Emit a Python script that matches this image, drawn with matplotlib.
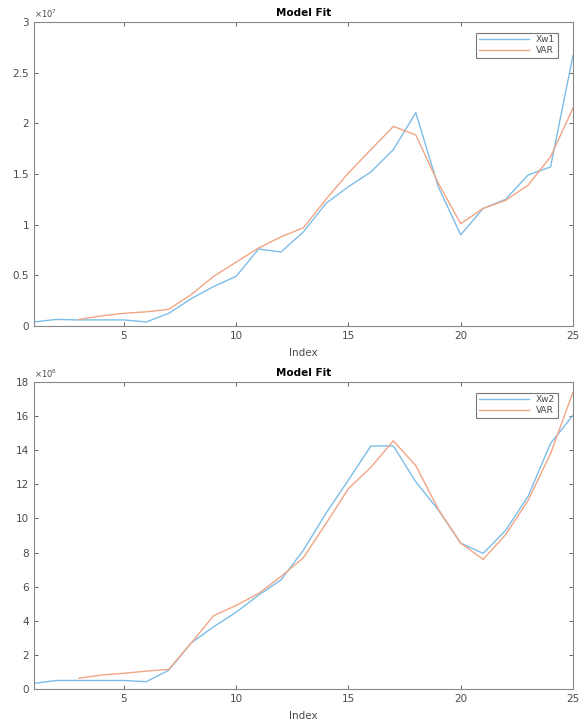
import matplotlib
matplotlib.use("Agg")
import matplotlib.pyplot as plt
from matplotlib.ticker import FuncFormatter, MultipleLocator

index = list(range(1, 26))

# Top panel (units: raw values)
xw1 = [0.4e6, 0.65e6, 0.6e6, 0.6e6, 0.6e6, 0.4e6, 1.25e6, 2.7e6, 3.9e6, 4.9e6,
       7.6e6, 7.3e6, 9.3e6, 12.1e6, 13.75e6, 15.2e6, 17.4e6, 21.05e6, 13.75e6, 9.0e6,
       11.6e6, 12.5e6, 14.9e6, 15.7e6, 26.7e6]
var1_x = list(range(3, 26))
var1 = [0.65e6, 1.0e6, 1.25e6, 1.4e6, 1.65e6, 3.1e6, 4.9e6, 6.3e6, 7.7e6, 8.8e6,
        9.7e6, 12.5e6, 15.1e6, 17.4e6, 19.7e6, 18.85e6, 14.1e6, 10.1e6, 11.6e6, 12.4e6,
        13.9e6, 16.7e6, 21.5e6]

# Bottom panel
xw2 = [0.33e6, 0.5e6, 0.5e6, 0.5e6, 0.5e6, 0.43e6, 1.1e6, 2.7e6, 3.65e6, 4.5e6,
       5.5e6, 6.4e6, 8.15e6, 10.3e6, 12.25e6, 14.25e6, 14.25e6, 12.15e6, 10.5e6, 8.55e6,
       7.95e6, 9.3e6, 11.3e6, 14.4e6, 16.05e6]
var2_x = list(range(3, 26))
var2 = [0.63e6, 0.82e6, 0.92e6, 1.05e6, 1.15e6, 2.7e6, 4.3e6, 4.9e6, 5.6e6, 6.6e6,
        7.7e6, 9.7e6, 11.75e6, 13.0e6, 14.55e6, 13.1e6, 10.55e6, 8.55e6, 7.6e6, 9.05e6,
        11.05e6, 13.8e6, 17.4e6]

blue = "#7cbde8"
orange = "#f2a585"
gray = "#4a4a4a"

fig = plt.figure(figsize=(5.8, 7.22), dpi=100)
ax1 = fig.add_axes([34/580, 1-326/722, 539/580, 304/722])
ax2 = fig.add_axes([34/580, 1-689/722, 539/580, 307/722])

def style(ax, scale, exp, ymax, ystep, names, xs, ys):
    ax.plot(xs[0], ys[0], color=blue, lw=1.0, label=names[0])
    ax.plot(xs[1], ys[1], color=orange, lw=1.0, label=names[1])
    ax.set_xlim(1, 25)
    ax.set_ylim(0, ymax * scale)
    ax.set_xticks([5, 10, 15, 20, 25])
    ax.yaxis.set_major_locator(MultipleLocator(ystep * scale))
    ax.yaxis.set_major_formatter(FuncFormatter(lambda v, p: "%g" % round(v / scale, 6)))
    ax.tick_params(direction="in", top=True, right=True, labelsize=7.5, colors=gray,
                   length=3, width=0.6)
    for s in ax.spines.values():
        s.set_color("#888888")
        s.set_linewidth(0.8)
    ax.set_title("Model Fit", fontsize=7.5, fontweight="bold", pad=4)
    ax.set_xlabel("Index", fontsize=7.5, color=gray, labelpad=5)
    ax.text(0.0, 1.005, r"$\times10^{%d}$" % exp, transform=ax.transAxes,
            fontsize=6, color=gray, ha="left", va="bottom")
    leg = ax.legend(loc="upper right", fontsize=6.5, frameon=True, fancybox=False,
                    handlelength=5.5, borderpad=0.3, labelspacing=0.2,
                    bbox_to_anchor=(0.98, 0.98), markerfirst=True)
    leg.get_frame().set_edgecolor("#555555")
    leg.get_frame().set_linewidth(0.8)
    for t in leg.get_texts():
        t.set_ha("right")
        t.set_color(gray)

style(ax1, 1e7, 7, 3, 0.5, ["Xw1", "VAR"], [index, var1_x], [xw1, var1])
style(ax2, 1e6, 6, 18, 2, ["Xw2", "VAR"], [index, var2_x], [xw2, var2])

fig.savefig("out.png", dpi=100)
